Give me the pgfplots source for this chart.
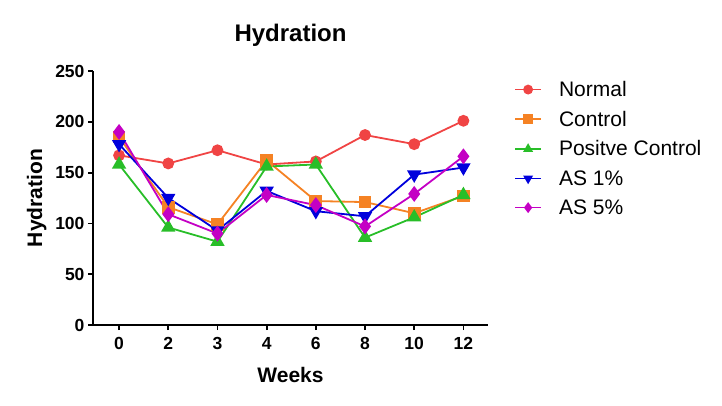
\documentclass[border=0pt]{standalone}
\usepackage{fontspec}
\setmainfont{Liberation Sans}
\usepackage{pgfplots}
\usepackage{pgfplotstable}
\pgfplotsset{compat=1.18}

\definecolor{cNormal}{RGB}{240,68,68}
\definecolor{cControl}{RGB}{245,130,36}
\definecolor{cPos}{RGB}{40,190,40}
\definecolor{cAS1}{RGB}{0,0,220}
\definecolor{cAS5}{RGB}{196,0,196}

% idx = category position, weeks 0,2,3,4,6,8,10,12
\pgfplotstableread{
idx normal control pos as1 as5
0   167    185     158 178 190
1   159    116     96  125 109
2   172    99      82  93  90
3   158    162     156 132 128
4   161    122     158 112 118
5   187    121     86  107 97
6   178    110     106 148 129
7   201    127     128 155 166
}\hydration

\begin{document}
\begin{tikzpicture}
\useasboundingbox (0pt,0pt) rectangle (722pt,405pt);
\begin{axis}[
    at={(93pt,80pt)}, anchor=south west,
    scale only axis,
    width=395pt, height=254pt,
    xmin=-0.53, xmax=7.5,
    ymin=0, ymax=250,
    xtick=data,
    xticklabels={0,2,3,4,6,8,10,12},
    ytick={0,50,...,250},
    axis x line*=bottom,
    axis y line*=left,
    axis line style={line width=1.8pt},
    tick style={line width=1.8pt, black},
    tick align=outside,
    major tick length=5pt,
    /pgf/number format/assume math mode=true,
    ticklabel style={font=\fontsize{17.5}{18}\selectfont\bfseries},
    x tick label style={yshift=-4pt},
    title={Hydration},
    title style={font=\fontsize{24}{26}\selectfont\bfseries, yshift=15pt},
    xlabel={Weeks},
    ylabel={Hydration},
    label style={font=\fontsize{21}{23}\selectfont\bfseries},
    xlabel style={yshift=-10pt},
    ylabel style={yshift=2pt},
    legend cell align=left,
    legend style={draw=none, fill=none, at={(1,1)}, anchor=north west,
        xshift=23pt, yshift=-6pt,
        font=\fontsize{21}{22}\selectfont, row sep=9pt},
    legend image code/.code={
        \draw[#1, line width=1.8pt]
        (0pt,0pt) -- (26pt,0pt);
        \path[#1] plot[mark size=4pt] coordinates {(13pt,0pt)};
        \path (41pt,0pt);},
    every axis plot/.append style={line width=1.8pt},
]
\addplot[color=cNormal, mark=*, mark size=5pt] table[x=idx, y=normal] {\hydration};
\addplot[color=cControl, mark=square*, mark size=5.5pt] table[x=idx, y=control] {\hydration};
\addplot[color=cPos, mark=triangle*, mark size=6.5pt] table[x=idx, y=pos] {\hydration};
\addplot[color=cAS1, mark=triangle*, mark size=6.5pt, mark options={rotate=180}] table[x=idx, y=as1] {\hydration};
\addplot[color=cAS5, mark=diamond*, mark size=6.5pt] table[x=idx, y=as5] {\hydration};
\legend{Normal, Control, Positve Control, AS 1\%, AS 5\%}
\end{axis}
\end{tikzpicture}
\end{document}
